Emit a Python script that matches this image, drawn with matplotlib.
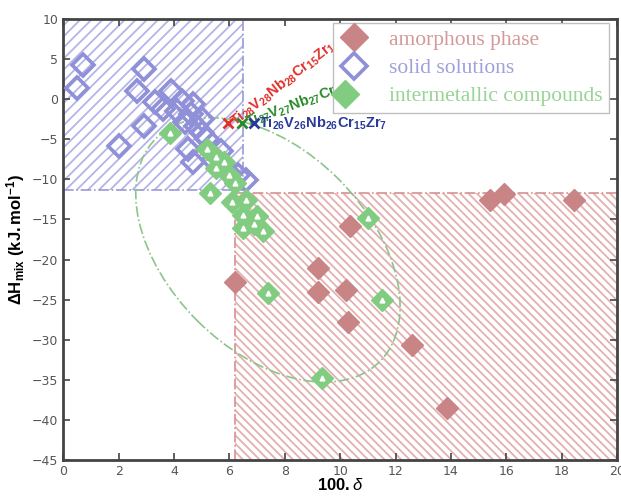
import matplotlib
matplotlib.use("Agg")
import matplotlib.pyplot as plt
import numpy as np
from matplotlib.patches import Rectangle, Ellipse
from matplotlib.lines import Line2D
from matplotlib.transforms import ScaledTranslation
from matplotlib.legend_handler import HandlerTuple

plt.rcParams["mathtext.fontset"] = "custom"
plt.rcParams["mathtext.rm"] = "Liberation Sans"
plt.rcParams["mathtext.bf"] = "Liberation Sans:bold"
plt.rcParams["mathtext.it"] = "Liberation Sans:italic"
plt.rcParams["hatch.linewidth"] = 1.3

# --- data ---
amorph_x = [6.2, 9.2, 9.2, 10.2, 10.3, 10.35, 12.6, 13.85, 15.4, 15.9, 18.45]
amorph_y = [-22.8, -21.0, -24.0, -23.8, -27.8, -15.8, -30.6, -38.5, -12.6, -11.8, -12.6]

solid_x = [0.7, 0.5, 2.9, 2.65, 2.0, 2.9, 3.3, 3.6, 3.9, 4.1, 4.3, 4.6, 4.7, 4.8,
           4.4, 5.0, 4.5, 4.7, 5.2, 5.0, 5.4, 5.7, 6.0, 6.3, 6.6, 5.8]
solid_y = [4.3, 1.4, 3.8, 1.0, -5.8, -3.3, -0.3, -1.2, 1.0, -1.5, -0.2, -1.8, -0.6, -3.4,
           -2.8, -2.5, -6.2, -7.8, -5.0, -4.2, -7.6, -6.5, -9.2, -9.5, -10.1, -8.5]

inter_x = [3.85, 5.2, 5.5, 5.8, 5.5, 6.0, 6.2, 5.3, 6.1, 6.6, 6.5, 7.0, 6.9, 6.5, 7.2,
           7.4, 9.35, 11.5, 11.0]
inter_y = [-4.2, -6.2, -7.2, -7.8, -8.6, -9.4, -10.4, -11.7, -12.8, -12.6, -14.4, -14.6,
           -15.6, -16.1, -16.4, -24.2, -34.8, -25.0, -14.8]

# highlighted alloys
alloy_x = [5.95, 6.45, 6.9]
alloy_y = [-3.0, -3.0, -3.0]
alloy_labels = [r"$\mathbf{Ti_{28}V_{28}Nb_{28}Cr_{15}Zr_{1}}$",
                r"$\mathbf{Ti_{27}V_{27}Nb_{27}Cr_{15}Zr_{4}}$",
                r"$\mathbf{Ti_{26}V_{26}Nb_{26}Cr_{15}Zr_{7}}$"]
alloy_rot = [38, 20, 0]
alloy_col = ["#e0302a", "#2a8a2a", "#2a3a9a"]

# regions
ss_xmax, ss_ymin = 6.5, -11.3      # solid-solution region
am_xmin, am_ymax = 6.2, -11.65     # amorphous region
ell_cx, ell_cy = 7.39, -18.8       # intermetallic ellipse centre

c_red = "#c98585"
c_blue = "#9090d8"
c_green = "#82cc82"

fig = plt.figure(figsize=(6.21, 4.96), dpi=100)
ax = fig.add_axes([0.102, 0.0726, 0.8916, 0.8891])
ax.set_xlim(0, 20)
ax.set_ylim(-45, 10)

# hatched regions
ax.add_patch(Rectangle((0, ss_ymin), ss_xmax, 10 - ss_ymin, facecolor="none",
                       edgecolor="#b4b4e8", hatch="///", linewidth=0, zorder=1))
ax.add_patch(Rectangle((am_xmin, -45), 20 - am_xmin, am_ymax + 45, facecolor="none",
                       edgecolor="#e4b0b0", hatch="\\\\\\\\", linewidth=0, zorder=1))
ax.plot([ss_xmax, ss_xmax], [ss_ymin, 10], ls="-.", color="#9a9ad8", lw=1.2, zorder=2)
ax.plot([0, ss_xmax], [ss_ymin, ss_ymin], ls="-.", color="#9a9ad8", lw=1.2, zorder=2)
ax.plot([am_xmin, am_xmin], [-45, am_ymax], ls="-.", color="#d89090", lw=1.2, zorder=2)
ax.plot([am_xmin, 20], [am_ymax, am_ymax], ls="-.", color="#d89090", lw=1.2, zorder=2)

# intermetallic ellipse (drawn in screen units around a data point)
ell = Ellipse((0, 0), width=3.16, height=2.0, angle=-45, facecolor="none",
              edgecolor="#8cc48c", ls="-.", lw=1.2, zorder=2,
              transform=fig.dpi_scale_trans + ScaledTranslation(ell_cx, ell_cy, ax.transData))
ax.add_patch(ell)

# points
ax.plot(amorph_x, amorph_y, "D", ms=11.5, color=c_red, mec=c_red, ls="none", zorder=3)
ax.plot(solid_x, solid_y, "D", ms=11, mfc="none", mec=c_blue, mew=2.6, ls="none", zorder=4)
ax.plot(inter_x, inter_y, "D", ms=11, color=c_green, mec=c_green, ls="none", zorder=5)
ax.plot(inter_x, inter_y, "^", ms=3.5, color="white", mec="white", ls="none", zorder=6)

for x, y, lab, rot, col in zip(alloy_x, alloy_y, alloy_labels, alloy_rot, alloy_col):
    ax.plot(x, y, "x", ms=7, mew=2, color=col, zorder=7)
    ax.text(x + 0.15, y, lab, rotation=rot, rotation_mode="anchor", ha="left",
            va="center", fontsize=10.5, color=col, zorder=7)

# legend
h_am = Line2D([], [], marker="D", ms=14, color=c_red, ls="none")
h_ss = Line2D([], [], marker="D", ms=13, mfc="none", mec=c_blue, mew=2.6, ls="none")
h_im1 = Line2D([], [], marker="D", ms=14, color=c_green, ls="none")
h_im2 = Line2D([], [], marker="^", ms=5, color="white", ls="none")
leg = ax.legend([h_am, h_ss, (h_im1, h_im2)],
                ["amorphous phase", "solid solutions", "intermetallic compounds"],
                handler_map={tuple: HandlerTuple(ndivide=None)},
                loc="upper right", bbox_to_anchor=(0.993, 1.0), fancybox=False,
                edgecolor="#c0c0c0", framealpha=1, handlelength=1.4, handletextpad=0.9,
                borderpad=0.3, labelspacing=0.38, borderaxespad=0.2,
                prop={"family": "Liberation Serif", "size": 15.5})
for txt, col in zip(leg.get_texts(), ["#d49a9a", "#a0a0dc", "#98d498"]):
    txt.set_color(col)
leg.set_zorder(8)

# axes styling
ax.set_xticks(np.arange(0, 21, 2))
ax.set_yticks(np.arange(-45, 11, 5))
ax.tick_params(direction="in", top=True, right=True, length=5, width=1.2,
               labelsize=9, labelcolor="#555555", color="#444444")
for sp in ax.spines.values():
    sp.set_linewidth(2)
    sp.set_color("#444444")

ax.set_xlabel(r"$\mathbf{100.}\mathit{\delta}$", fontsize=12, labelpad=-1)
ax.set_ylabel(r"$\mathbf{\Delta H_{mix}\ (kJ.mol^{-1})}$", fontsize=12, labelpad=4)

fig.savefig("out.png", dpi=100)
